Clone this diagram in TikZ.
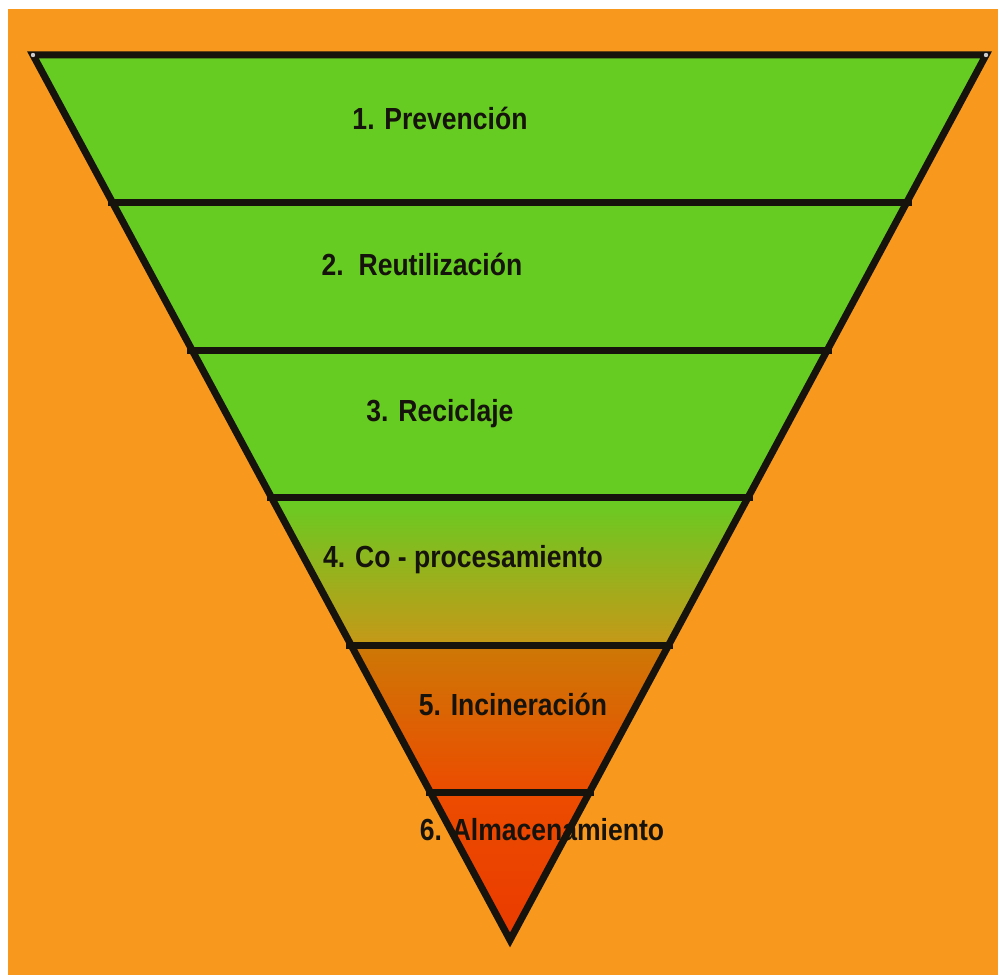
\documentclass[tikz,border=0pt]{standalone}
\usepackage{fontspec}
\newfontfamily\labfont{Liberation Sans}[FakeStretch=0.87]
\definecolor{bgorange}{RGB}{248,153,30}
\definecolor{leafgreen}{RGB}{102,204,34}
\definecolor{olive}{RGB}{198,152,24}
\definecolor{burnt}{RGB}{205,120,6}
\definecolor{redorange}{RGB}{236,76,0}
\definecolor{redorangeb}{RGB}{234,58,0}
\definecolor{ink}{RGB}{22,18,12}
\tikzset{
  band/.style={draw=none},
  divider/.style={draw=ink, line width=7pt, line cap=butt, shorten <=-5pt, shorten >=-5pt},
  outline/.style={draw=ink, line width=7pt, line join=miter},
  label/.style={anchor=base, inner sep=0pt, font=\labfont\bfseries\fontsize{30.5}{34}\selectfont, text=ink},
  handle/.style={fill=gray!40, draw=none}
}
\begin{document}
\begin{tikzpicture}[x=1pt,y=-1pt]
\useasboundingbox (0,0) rectangle (998,974);
\fill[white] (0,0) rectangle (998,974);
\begin{scope}
\clip (0,0) rectangle (998,974);
\fill[bgorange] (8,9) rectangle (1010,990);
\end{scope}
% vertices
\coordinate (TL) at (33,55);
\coordinate (TR) at (986,55);
\coordinate (A) at (510,940);
\coordinate (L1) at (112.5,202.5); \coordinate (R1) at (906.6,202.5);
\coordinate (L2) at (192,350);     \coordinate (R2) at (827.2,350);
\coordinate (L3) at (271.5,497.5); \coordinate (R3) at (747.8,497.5);
\coordinate (L4) at (351,645);     \coordinate (R4) at (668.4,645);
\coordinate (L5) at (430.5,792.5); \coordinate (R5) at (589,792.5);
% band fills
\fill[leafgreen] (TL) -- (TR) -- (R3) -- (L3) -- cycle;
\shade[top color=leafgreen, bottom color=olive] (L3) -- (R3) -- (R4) -- (L4) -- cycle;
\shade[top color=burnt, bottom color=redorange] (L4) -- (R4) -- (R5) -- (L5) -- cycle;
\shade[top color=redorange, bottom color=redorangeb] (L5) -- (R5) -- (A) -- cycle;
% labels
\node[label] (t1) at (440,129) {1. Prevención};
\node[label] (t2) at (422,275) {2.\ \ Reutilización};
\node[label] (t3) at (440,421) {3. Reciclaje};
\node[label] (t4) at (463,567) {4. Co - procesamiento};
\node[label] (t5) at (513,715) {5. Incineración};
\node[label] (t6) at (542,840) {6. Almacenamiento};
% dividers
\draw[divider] (L1) -- (R1);
\draw[divider] (L2) -- (R2);
\draw[divider] (L3) -- (R3);
\draw[divider] (L4) -- (R4);
\draw[divider] (L5) -- (R5);
% outline
\draw[outline] (TL) -- (TR) -- (A) -- cycle;
\fill[handle] (TL) circle (2.2);
\fill[handle] (TR) circle (2.2);
\end{tikzpicture}
\end{document}
